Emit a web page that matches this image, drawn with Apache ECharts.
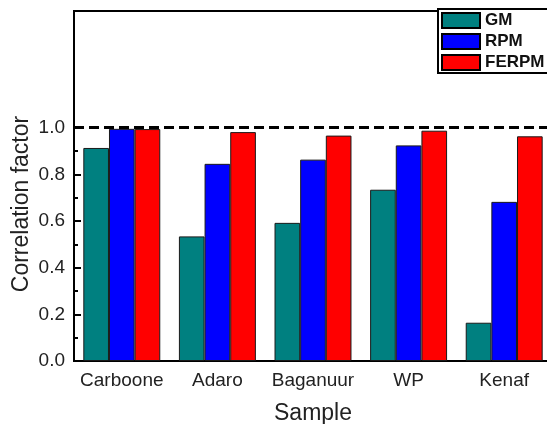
<!DOCTYPE html>
<html>
<head>
<meta charset="utf-8">
<script src="https://cdn.jsdelivr.net/npm/echarts@6/dist/echarts.min.js"></script>
<style>
  html, body { margin: 0; padding: 0; background: #fff; }
  #chart { width: 547px; height: 424px; }
</style>
</head>
<body>
<div id="chart"></div>
<script>
// Correlation factor of each model per sample
const categories = ['Carboone', 'Adaro', 'Baganuur', 'WP', 'Kenaf'];
const gm    = [0.913, 0.534, 0.592, 0.734, 0.164];
const rpm   = [0.995, 0.845, 0.863, 0.924, 0.682];
const ferpm = [0.994, 0.981, 0.966, 0.987, 0.963];
const referenceLevel = 1.0;

// Axis tick positions
const majorTicks = [0, 0.2, 0.4, 0.6, 0.8, 1.0];
const minorTicks = [0.1, 0.3, 0.5, 0.7, 0.9];

const FONT = '"Liberation Sans", Arial, sans-serif';
const chart = echarts.init(document.getElementById('chart'), null, { renderer: 'canvas' });

const barStyle = (color) => ({ color: color, borderColor: '#1a1a1a', borderWidth: 1 });

chart.setOption({
  animation: false,
  backgroundColor: '#ffffff',
  grid: {
    left: 74, top: 11, width: 478, height: 350,
    outerBoundsMode: 'none',
    containLabel: false,
    show: true, borderColor: '#000', borderWidth: 2, backgroundColor: 'transparent'
  },
  legend: {
    orient: 'vertical',
    left: 438, top: 9,
    padding: [3, 30, 2, 3],
    icon: 'rect',
    itemWidth: 38, itemHeight: 15, itemGap: 4,
    itemStyle: { borderColor: '#000', borderWidth: 2 },
    borderColor: '#000', borderWidth: 2,
    backgroundColor: '#fff',
    textStyle: { fontFamily: FONT, fontSize: 17, lineHeight: 15, color: '#111', fontWeight: 'bold', padding: [0, 0, 0, 0] },
    data: ['GM', 'RPM', 'FERPM']
  },
  xAxis: [{
    type: 'category',
    data: categories,
    axisLine: { lineStyle: { color: '#000', width: 2 } },
    axisTick: { show: false },
    axisLabel: { interval: 0, hideOverlap: false, fontFamily: FONT, fontSize: 19, color: '#222', margin: 10 },
    name: 'Sample',
    nameLocation: 'middle',
    nameGap: 41,
    nameTextStyle: { fontFamily: FONT, fontSize: 23, color: '#222' }
  }],
  yAxis: [{
    type: 'value',
    min: 0, max: 1.5,
    splitLine: { show: false },
    axisLine: { show: true, lineStyle: { color: '#000', width: 2 } },
    axisTick: { show: true, inside: true, length: 7, lineStyle: { color: '#000', width: 2 }, customValues: majorTicks },
    axisLabel: { fontFamily: FONT, fontSize: 19, color: '#222', margin: 9,
      customValues: majorTicks, formatter: (v) => v.toFixed(1) }
  }, {
    type: 'value',
    position: 'left',
    min: 0, max: 1.5,
    splitLine: { show: false },
    axisLine: { show: false },
    axisLabel: { show: false },
    axisTick: { show: true, inside: true, length: 4, lineStyle: { color: '#000', width: 2 }, customValues: minorTicks }
  }],
  graphic: [{
    type: 'text',
    x: 22, y: 204,
    rotation: Math.PI / 2,
    style: {
      text: 'Correlation factor',
      font: '23px "Liberation Sans", Arial, sans-serif',
      fill: '#222',
      align: 'center',
      verticalAlign: 'middle'
    }
  }],
  series: [
    { name: 'GM', type: 'bar', data: gm, barGap: '0%', barCategoryGap: '19.5%', itemStyle: barStyle('#008080') },
    { name: 'RPM', type: 'bar', data: rpm, barGap: '0%', barCategoryGap: '19.5%', itemStyle: barStyle('#0000ff') },
    {
      name: 'FERPM', type: 'bar', data: ferpm, barGap: '0%', barCategoryGap: '19.5%', itemStyle: barStyle('#ff0000'),
      markLine: {
        silent: true,
        symbol: ['none', 'none'],
        label: { show: false },
        lineStyle: { color: '#000', width: 3, type: [10, 5] },
        data: [{ yAxis: referenceLevel }]
      }
    }
  ]
});
</script>
</body>
</html>
